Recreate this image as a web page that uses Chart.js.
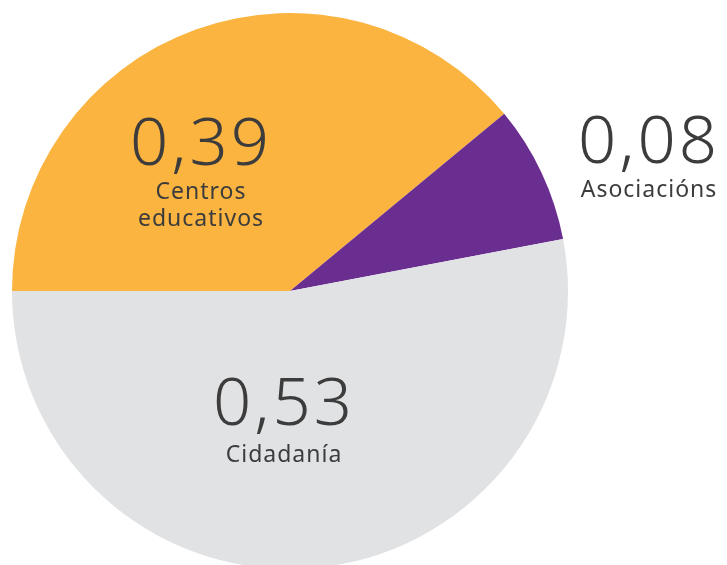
<!DOCTYPE html>
<html>
<head>
<meta charset="utf-8">
<script src="https://cdn.jsdelivr.net/npm/chart.js@4"></script>
<style>
  html, body { margin: 0; padding: 0; background: #fff; overflow: hidden; }
  #wrap { width: 727px; height: 580px; position: relative; }
</style>
</head>
<body>
<div id="wrap"><canvas id="canvas"></canvas></div>
<script>
// data
const categories = ['Centros educativos', 'Asociacións', 'Cidadanía'];
const shares = [0.39, 0.08, 0.53];
const valueLabels = ['0,39', '0,08', '0,53'];
const nameLines = [['Centros', 'educativos'], ['Asociacións'], ['Cidadanía']];
const colours = ['#FBB43F', '#6A2D90', '#E1E2E4'];

// label spots: centre x, number baseline, first name baseline (pixels)
const labelSpots = [[201, 165, 199], [649, 163, 197], [284, 425, 462]];

const textPlugin = {
    id: 'sliceText',
    afterDraw(chart) {
        const ctx = chart.ctx;
        ctx.save();
        ctx.fillStyle = '#3C3C3C';
        ctx.textAlign = 'center';
        ctx.textBaseline = 'alphabetic';
        labelSpots.forEach((spot, i) => {
            ctx.font = '300 67px "Noto Sans"';
            ctx.letterSpacing = '3px';
            ctx.fillText(valueLabels[i], spot[0], spot[1]);
            ctx.font = '400 23px "Noto Sans"';
            ctx.letterSpacing = '1px';
            nameLines[i].forEach((line, j) => {
                ctx.fillText(line, spot[0], spot[2] + j * 27);
            });
        });
        ctx.restore();
    }
};

var ctx = document.getElementById('canvas').getContext('2d');
var myChart = new Chart(ctx, {
    type: 'pie',
    data: {
        labels: categories,
        datasets: [{
            data: shares,
            backgroundColor: colours,
            borderWidth: 0
        }]
    },
    options: {
        responsive: true,
        maintainAspectRatio: false,
        animation: false,
        rotation: -90,
        layout: { padding: { left: 12, right: 159, top: 13, bottom: 11 } },
        plugins: {
            legend: { display: false },
            tooltip: { enabled: false }
        }
    },
    plugins: [textPlugin]
});
</script>
</body>
</html>
